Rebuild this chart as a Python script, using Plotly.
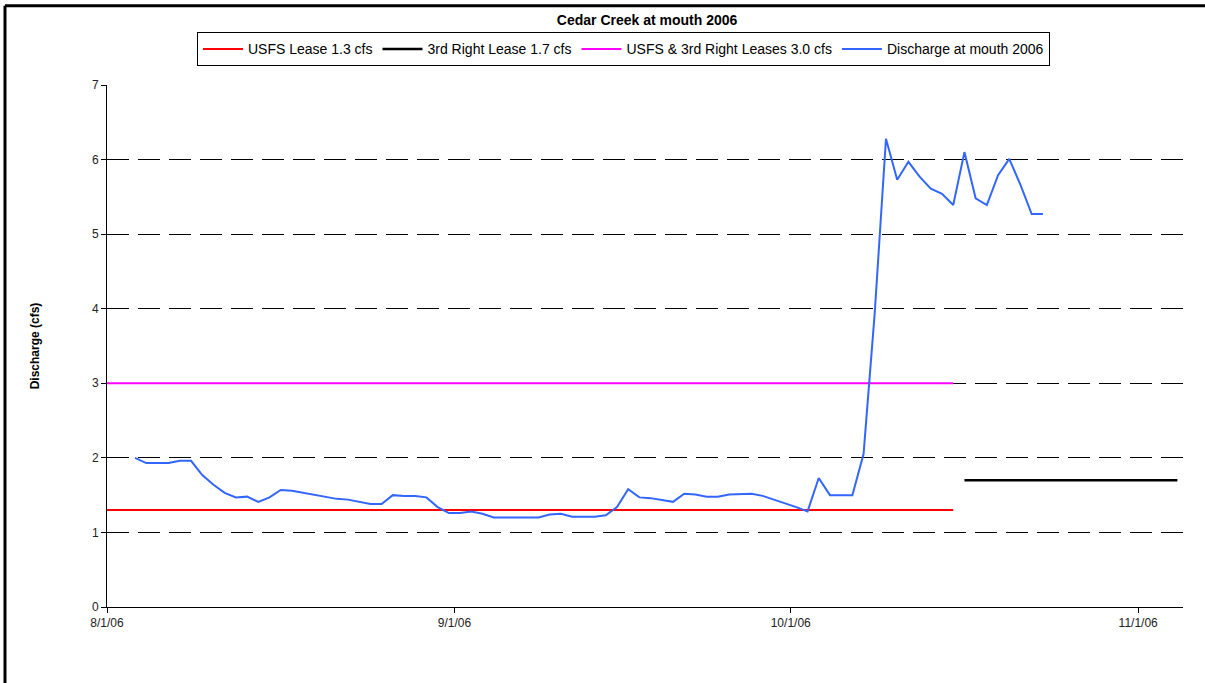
import pandas as pd
import plotly.graph_objects as go

# ─── DATA ───
aug_flow = [2.00, 1.93, 1.93, 1.93, 1.96, 1.96, 1.77, 1.64, 1.53, 1.47, 1.48, 1.41, 1.47, 1.57, 1.56,
            1.53, 1.51, 1.48, 1.45, 1.44, 1.41, 1.38, 1.38, 1.50, 1.49, 1.49, 1.47, 1.34, 1.26]
sep_flow = [1.26, 1.28, 1.25, 1.20, 1.20, 1.20, 1.20, 1.20, 1.24, 1.25, 1.21, 1.21, 1.21, 1.23, 1.34,
            1.58, 1.47, 1.46, 1.44, 1.41, 1.52, 1.51, 1.48, 1.48, 1.51, 1.52, 1.52, 1.49, 1.44, 1.40]
oct_flow = [1.34, 1.28, 1.73, 1.50, 1.50, 1.50, 2.05, 3.95, 6.28, 5.73, 5.97, 5.77, 5.61, 5.54, 5.39,
            6.10, 5.48, 5.39, 5.79, 6.01, 5.66, 5.27, 5.27]
discharge = aug_flow + sep_flow + oct_flow
discharge_dates = pd.date_range("2006-08-03 12:00", periods=len(discharge), freq="D")

usfs_dates = ["2006-08-01", "2006-10-15 12:00"]
usfs_lease = [1.3, 1.3]
third_dates = ["2006-10-16 12:00", "2006-11-04 12:00"]
third_lease = [1.7, 1.7]
both_dates = ["2006-08-01", "2006-10-15 12:00"]
both_leases = [3.0, 3.0]

x_ticks = ["2006-08-01", "2006-09-01", "2006-10-01", "2006-11-01"]

# ─── THEME ───
_FONT = "Liberation Sans, Arial, sans-serif"
_BLUE = "#3366ff"

fig = go.Figure()
fig.add_trace(go.Scatter(x=usfs_dates, y=usfs_lease, mode="lines", name="USFS Lease 1.3 cfs",
                         line=dict(color="#ff0000", width=2)))
fig.add_trace(go.Scatter(x=third_dates, y=third_lease, mode="lines", name="3rd Right Lease 1.7 cfs",
                         line=dict(color="#000000", width=2.5)))
fig.add_trace(go.Scatter(x=both_dates, y=both_leases, mode="lines", name="USFS & 3rd Right Leases 3.0 cfs",
                         line=dict(color="#ff00ff", width=2)))
fig.add_trace(go.Scatter(x=discharge_dates, y=discharge, mode="lines", name="Discharge at mouth 2006",
                         line=dict(color=_BLUE, width=2)))

fig.update_layout(
    width=1205, height=683,
    paper_bgcolor="white", plot_bgcolor="white",
    font=dict(family=_FONT, color="black", size=12),
    margin=dict(l=107, r=22, t=85, b=76),
    title=dict(text="<b>Cedar Creek at mouth 2006</b>", x=0.537, xanchor="center",
               y=0.971, yanchor="middle", font=dict(size=14)),
    legend=dict(orientation="h", x=0.48, xanchor="center", y=1.101, yanchor="top",
                bordercolor="black", borderwidth=1, bgcolor="white",
                font=dict(size=14), itemwidth=40, tracegroupgap=0),
    showlegend=True,
)
fig.update_xaxes(
    range=["2006-08-01", "2006-11-05"], tickvals=x_ticks, tickformat="%-m/%-d/%y",
    showgrid=False, zeroline=False, showline=True, linecolor="black", linewidth=1,
    ticks="outside", ticklen=5, tickcolor="black", tickfont=dict(size=12, color="#222"),
)
fig.update_yaxes(
    range=[0, 7], dtick=1, showgrid=True, gridcolor="black", gridwidth=1, griddash="22px,9px",
    zeroline=False, showline=True, linecolor="black", linewidth=1,
    ticks="outside", ticklen=5, tickcolor="black", tickfont=dict(size=12, color="#222"),
    title=dict(text="<b>Discharge (cfs)</b>", font=dict(size=12), standoff=49),
)
# outer chart frame (top and left edges visible)
fig.add_shape(type="line", xref="paper", yref="paper", x0=-0.0948, x1=1.03, y0=1.152, y1=1.152,
              line=dict(color="black", width=3))
fig.add_shape(type="line", xref="paper", yref="paper", x0=-0.0948, x1=-0.0948, y0=1.152, y1=-0.16,
              line=dict(color="black", width=3))

# drop the default page margin so the figure sits at the window origin
fig.write_html("out.html", config={"displayModeBar": False},
               post_script="document.body.style.margin='0';")
